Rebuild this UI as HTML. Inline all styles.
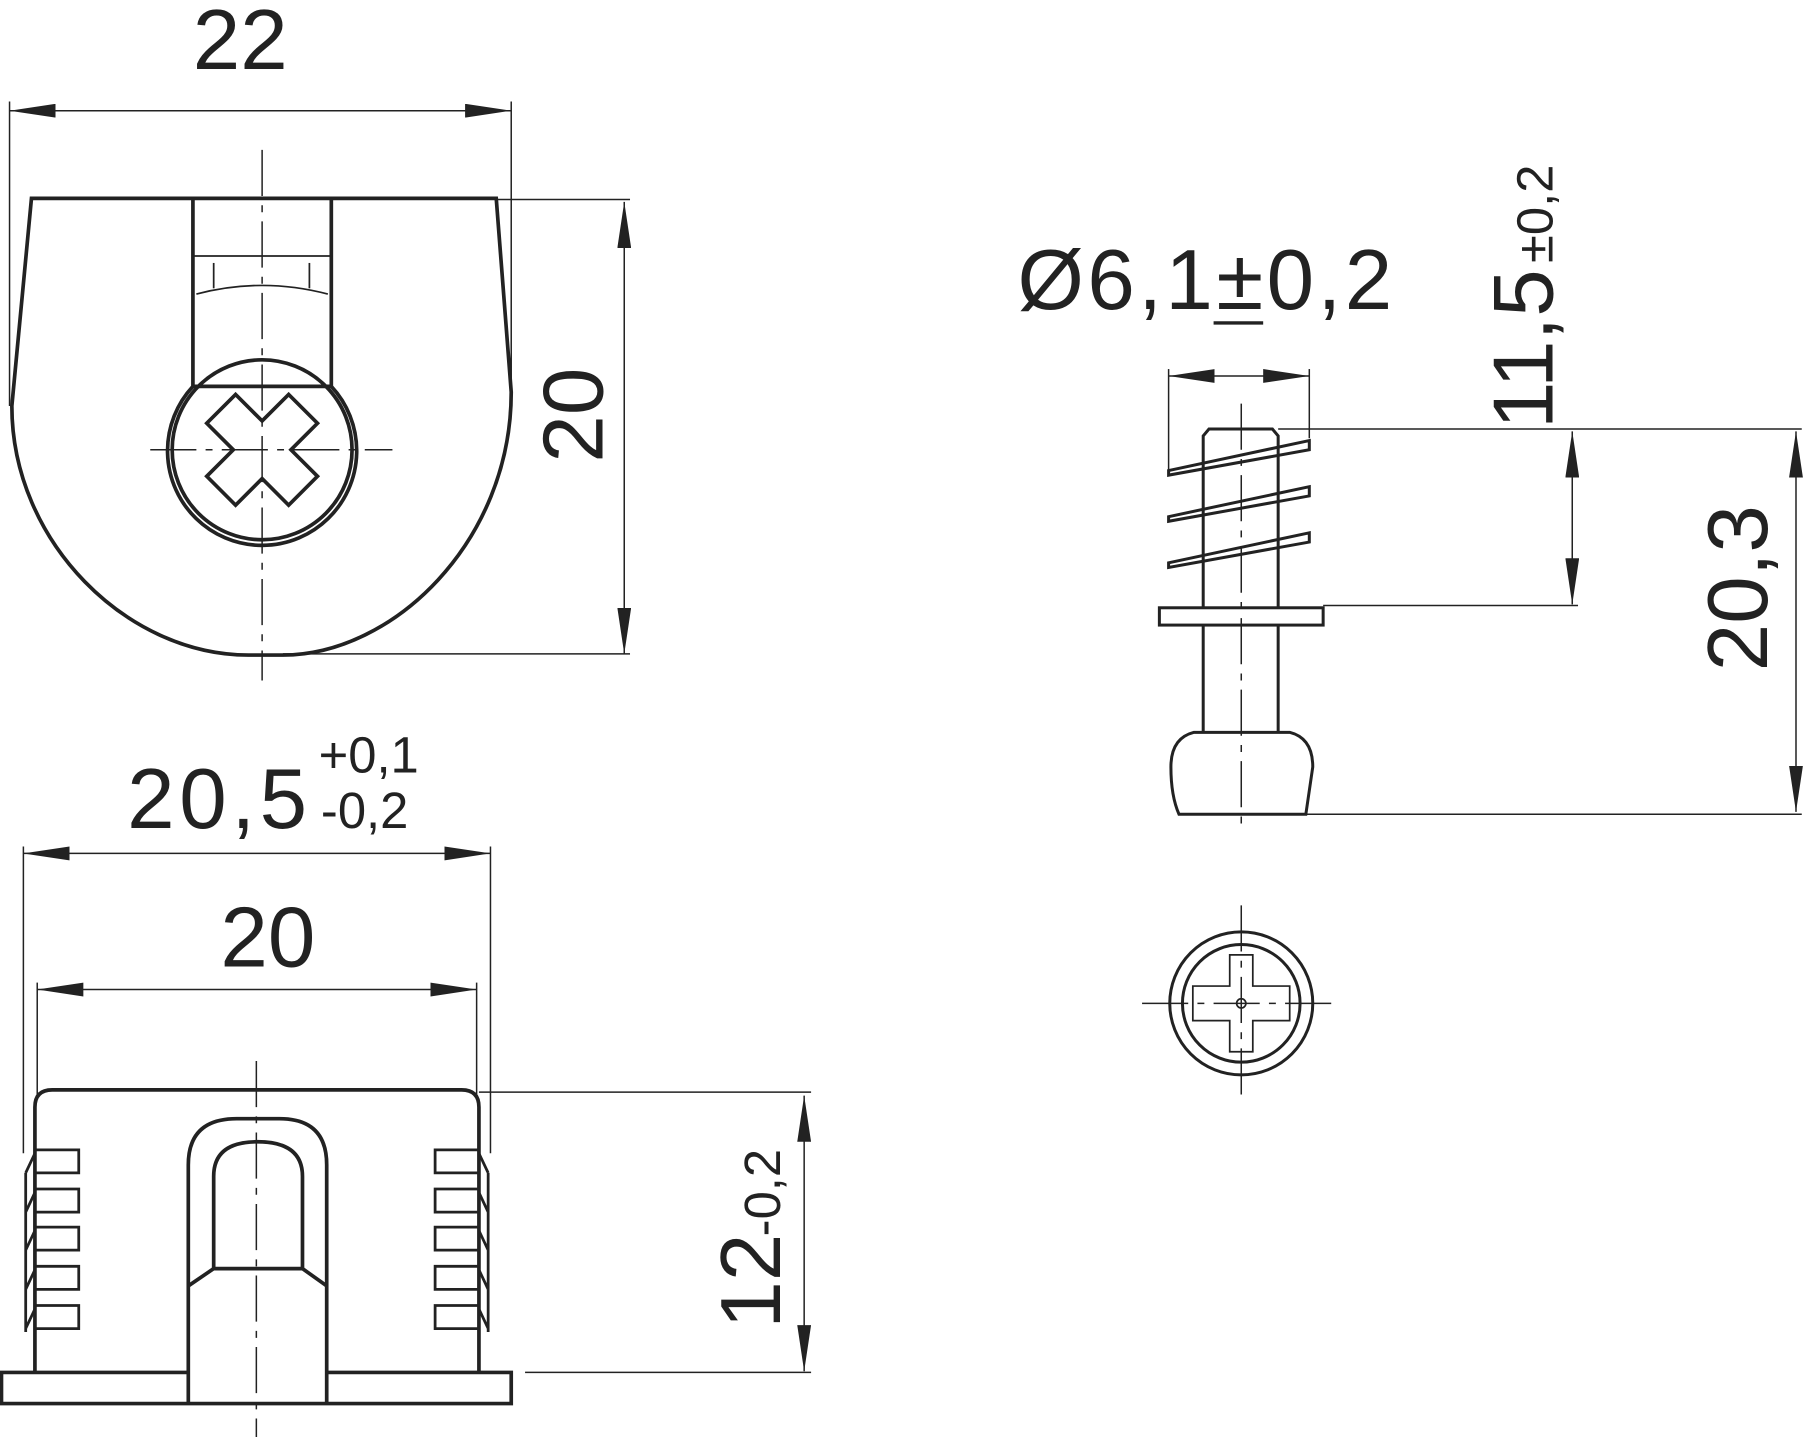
<!DOCTYPE html>
<html><head><meta charset="utf-8"><style>
html,body{margin:0;padding:0;background:#fff;}
svg{display:block}
text{font-family:"Liberation Sans","DejaVu Sans",sans-serif;fill:#222}
</style></head><body>
<svg width="1809" height="1437" viewBox="0 0 1568 1246" xmlns="http://www.w3.org/2000/svg">
<defs>
<marker id="a" viewBox="0 0 40 12" refX="40" refY="6" markerWidth="40" markerHeight="12" markerUnits="userSpaceOnUse" orient="auto"><path d="M0,0 L40,6 L0,12 Z" fill="#222"/></marker>
<marker id="b" viewBox="0 0 40 12" refX="0" refY="6" markerWidth="40" markerHeight="12" markerUnits="userSpaceOnUse" orient="auto"><path d="M40,0 L0,6 L40,12 Z" fill="#222"/></marker>
</defs>
<g fill="none" stroke="#222">
<g stroke-width="1.3">
<line x1="8" y1="96" x2="443" y2="96" marker-start="url(#b)" marker-end="url(#a)"/>
<line x1="8" y1="88" x2="8" y2="352"/>
<line x1="443" y1="88" x2="443" y2="340"/>
<line x1="541" y1="175" x2="541" y2="567" marker-start="url(#b)" marker-end="url(#a)"/>
<line x1="430" y1="173" x2="546" y2="173"/>
<line x1="245" y1="567" x2="546" y2="567"/>
<line x1="227" y1="130" x2="227" y2="590" stroke-dasharray="40,8,6,8"/>
<line x1="130" y1="390" x2="340" y2="390" stroke-dasharray="40,8,6,8"/>
</g>
<g stroke-width="3.2">
<path d="M27,172 L430,172 L443,340 C443,470 340,568 245,568 L215,568 C110,568 10,470 10,352 Z"/>
<path d="M167,172 L167,335 A82,82 0 1 0 287,335 L287,172"/>
<line x1="167" y1="335" x2="287" y2="335"/>
<circle cx="227" cy="390" r="78"/>
<path d="M227,365 L250,342 L275,367 L252,390 L275,413 L250,438 L227,415 L204,438 L179,413 L202,390 L179,367 L204,342 Z"/>
</g>
<g stroke-width="1.5">
<line x1="167" y1="222" x2="287" y2="222"/>
<path d="M170,255 Q227,240 284,255"/>
<line x1="185" y1="228" x2="185" y2="250"/><line x1="268" y1="228" x2="268" y2="250"/>
</g>
<g stroke-width="1.3">
<line x1="20" y1="740" x2="425" y2="740" marker-start="url(#b)" marker-end="url(#a)"/>
<line x1="20" y1="734" x2="20" y2="1000"/>
<line x1="425" y1="734" x2="425" y2="1000"/>
<line x1="32" y1="858" x2="413" y2="858" marker-start="url(#b)" marker-end="url(#a)"/>
<line x1="32" y1="852" x2="32" y2="950"/>
<line x1="413" y1="852" x2="413" y2="950"/>
<line x1="697" y1="950" x2="697" y2="1189" marker-start="url(#b)" marker-end="url(#a)"/>
<line x1="415" y1="947" x2="703" y2="947"/>
<line x1="455" y1="1190" x2="703" y2="1190"/>
<line x1="222" y1="920" x2="222" y2="1246" stroke-dasharray="40,8,6,8"/>
</g>
<g stroke-width="3.2">
<path d="M30,1190 L30,960 Q30,945 45,945 L400,945 Q415,945 415,960 L415,1190"/>
<path d="M163,1190 L1,1190 L1,1217 L443,1217 L443,1190 L283,1190"/>
<path d="M163,1217 L163,1010 Q163,970 205,970 L242,970 Q283,970 283,1010 L283,1217"/>
<path d="M185,1100 L185,1020 Q185,990 223,990 Q262,990 262,1020 L262,1100"/>
<path d="M163,1115 L185,1100 L262,1100 L283,1115"/>
</g>
<g stroke-width="2.4">
<path d="M30,997 L68,997 L68,1017 L30,1017 M22,1017 L30,1000 M30,1031 L68,1031 L68,1051 L30,1051 M22,1051 L30,1034 M30,1064 L68,1064 L68,1084 L30,1084 M22,1084 L30,1067 M30,1098 L68,1098 L68,1118 L30,1118 M22,1118 L30,1101 M30,1132 L68,1132 L68,1152 L30,1152 M22,1152 L30,1135 M22,1017 L22,1155"/>
<path d="M415,997 L377,997 L377,1017 L415,1017 M423,1017 L415,1000 M415,1031 L377,1031 L377,1051 L415,1051 M423,1051 L415,1034 M415,1064 L377,1064 L377,1084 L415,1084 M423,1084 L415,1067 M415,1098 L377,1098 L377,1118 L415,1118 M423,1118 L415,1101 M415,1132 L377,1132 L377,1152 L415,1152 M423,1152 L415,1135 M423,1017 L423,1155"/>
</g>
<g stroke-width="1.3">
<line x1="1013" y1="326" x2="1135" y2="326" marker-start="url(#b)" marker-end="url(#a)"/>
<line x1="1013" y1="320" x2="1013" y2="410"/>
<line x1="1135" y1="320" x2="1135" y2="380"/>
<line x1="1363" y1="374" x2="1363" y2="524" marker-start="url(#b)" marker-end="url(#a)"/>
<line x1="1557" y1="374" x2="1557" y2="704" marker-start="url(#b)" marker-end="url(#a)"/>
<line x1="1108" y1="372" x2="1562" y2="372"/>
<line x1="1147" y1="525" x2="1368" y2="525"/>
<line x1="1120" y1="706" x2="1562" y2="706"/>
<line x1="1076" y1="350" x2="1076" y2="720" stroke-dasharray="40,8,6,8"/>
<line x1="990" y1="870" x2="1160" y2="870" stroke-dasharray="40,8,6,8"/>
<line x1="1076" y1="785" x2="1076" y2="955" stroke-dasharray="40,8,6,8"/>
</g>
<g stroke-width="2.6">
<path d="M1043,527 L1043,378 L1048,372 L1103,372 L1108,378 L1108,527"/>
<path d="M1043,542 L1043,635 M1108,542 L1108,635"/>
<rect x="1005" y="527" width="142" height="15"/>
<path d="M1035,635 L1118,635 Q1138,640 1138,665 L1132,706 L1022,706 Q1015,690 1015,665 Q1015,640 1035,635 Z"/>
<path d="M1013,408 L1135,382 L1135,390 L1013,412 Z"/>
<path d="M1013,448 L1135,422 L1135,430 L1013,452 Z"/>
<path d="M1013,488 L1135,462 L1135,470 L1013,492 Z"/>
<circle cx="1076" cy="870" r="62"/>
<circle cx="1076" cy="870" r="51"/>
</g>
<g stroke-width="1.5">
<path d="M1066,828 L1086,828 L1086,855 L1118,855 L1118,885 L1086,885 L1086,912 L1066,912 L1066,885 L1034,885 L1034,855 L1066,855 Z"/>
<circle cx="1076" cy="870" r="4"/>
</g>
</g>
<text x="208" y="60" font-size="74" text-anchor="middle">22</text>
<text transform="translate(522,360) rotate(-90)" font-size="74" text-anchor="middle">20</text>
<text x="110" y="718" font-size="74" letter-spacing="4">20,5</text>
<text x="276" y="670" font-size="44">+0,1</text>
<text x="278" y="718" font-size="44">-0,2</text>
<text x="232" y="838" font-size="74" text-anchor="middle">20</text>
<text transform="translate(676,1152) rotate(-90)" font-size="74">12</text>
<text transform="translate(676,1072) rotate(-90)" font-size="44">-0,2</text>
<text x="882" y="268" font-size="74" letter-spacing="3">Ø6,1±0,2</text>
<line x1="1052" y1="280" x2="1095" y2="280" stroke="#222" stroke-width="3"/>
<text transform="translate(1346,372) rotate(-90)" font-size="74">11,5</text>
<text transform="translate(1346,228) rotate(-90)" font-size="44">±0,2</text>
<text transform="translate(1532,510) rotate(-90)" font-size="74" text-anchor="middle">20,3</text>
</svg>
</body></html>
